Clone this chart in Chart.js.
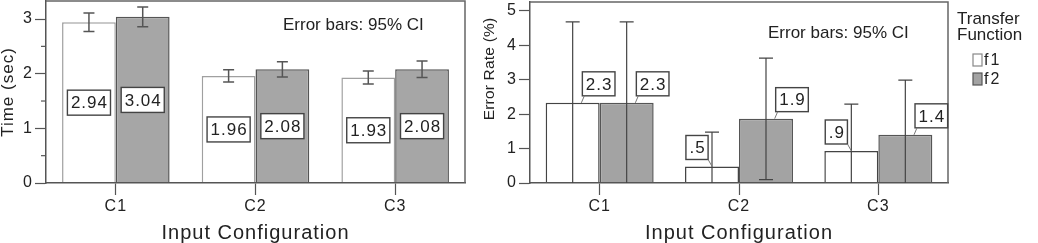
<!DOCTYPE html>
<html>
<head>
<meta charset="utf-8">
<script src="https://cdn.jsdelivr.net/npm/chart.js@4.4.1/dist/chart.umd.min.js"></script>
<style>
html, body { margin: 0; padding: 0; background: #fff; }
#wrap { position: relative; width: 1038px; height: 243px; }
#timeChart { position: absolute; left: 0; top: 0; }
#errChart { position: absolute; left: 470px; top: 0; }
</style>
</head>
<body>
<div id="wrap">
  <canvas id="timeChart" width="470" height="243"></canvas>
  <canvas id="errChart" width="568" height="243"></canvas>
</div>
<script>
const configs = ['C1', 'C2', 'C3'];
const seriesNames = ['f1', 'f2'];
const legendTitle = ['Transfer', 'Function'];
const noteText = 'Error bars: 95% CI';

// left chart: task time
const timeF1 = [2.94, 1.96, 1.93];
const timeF2 = [3.04, 2.08, 2.08];
const timeF1Low = [2.77, 1.85, 1.81];
const timeF1High = [3.11, 2.07, 2.05];
const timeF2Low = [2.86, 1.94, 1.93];
const timeF2High = [3.22, 2.22, 2.23];
const timeTicks = [0, 1, 2, 3];
const timeMinorTicks = [0.5, 1.5, 2.5];

// right chart: error rate
const errF1 = [2.33, 0.48, 0.93];
const errF2 = [2.33, 1.87, 1.4];
const errF1Low = [-0.02, -0.52, -0.43];
const errF1High = [4.68, 1.48, 2.29];
const errF2Low = [-0.02, 0.1, -0.19];
const errF2High = [4.68, 3.63, 2.99];
const errTicks = [0, 1, 2, 3, 4, 5];

const FONT = '"Liberation Sans", Arial, Helvetica, sans-serif';
const INK = '#222';
Chart.defaults.font.family = FONT;
Chart.defaults.color = INK;

function labelBox(ctx, text, cx, cy, h) {
    ctx.font = '17px ' + FONT;
    ctx.letterSpacing = '1px';
    const w = ctx.measureText(text).width + 6;
    ctx.fillStyle = '#fff';
    ctx.strokeStyle = '#444';
    ctx.lineWidth = 1.4;
    ctx.fillRect(cx - w / 2, cy - h / 2, w, h);
    ctx.strokeRect(cx - w / 2, cy - h / 2, w, h);
    ctx.fillStyle = INK;
    ctx.textAlign = 'center';
    ctx.textBaseline = 'middle';
    ctx.fillText(text, cx + 0.5, cy + 1);
    return w;
}

const extras = {
    id: 'extras',
    beforeDraw(chart) {
        chart.ctx.letterSpacing = '1px';
    },
    afterDraw(chart, args, opts) {
        const ctx = chart.ctx;
        const a = chart.chartArea;
        const y = chart.scales.y;
        ctx.save();

        // box top + right edge
        ctx.strokeStyle = '#666';
        ctx.lineWidth = 1.5;
        ctx.beginPath();
        ctx.moveTo(a.left, a.top);
        ctx.lineTo(a.right, a.top);
        ctx.lineTo(a.right, a.bottom);
        ctx.stroke();

        // minor ticks
        ctx.strokeStyle = '#555';
        ctx.lineWidth = 1.2;
        (opts.minor || []).forEach(v => {
            const py = y.getPixelForValue(v);
            ctx.beginPath();
            ctx.moveTo(a.left - 5, py);
            ctx.lineTo(a.left, py);
            ctx.stroke();
        });

        // error bars
        ctx.save();
        ctx.beginPath();
        ctx.rect(a.left, a.top - 1, a.right - a.left, a.bottom - a.top + 1);
        ctx.clip();
        ctx.strokeStyle = opts.errColor;
        ctx.lineWidth = opts.errWidth;
        chart.data.datasets.forEach((ds, i) => {
            chart.getDatasetMeta(i).data.forEach((bar, j) => {
                const lo = y.getPixelForValue(ds.ciLow[j]);
                const hi = y.getPixelForValue(ds.ciHigh[j]);
                const c = opts.cap;
                ctx.beginPath();
                ctx.moveTo(bar.x, lo);
                ctx.lineTo(bar.x, hi);
                ctx.moveTo(bar.x - c, hi);
                ctx.lineTo(bar.x + c, hi);
                ctx.moveTo(bar.x - c, lo);
                ctx.lineTo(bar.x + c, lo);
                ctx.stroke();
            });
        });
        ctx.restore();

        // value labels
        chart.data.datasets.forEach((ds, i) => {
            chart.getDatasetMeta(i).data.forEach((bar, j) => {
                const v = ds.data[j];
                if (opts.inside) {
                    labelBox(ctx, v.toFixed(2), bar.x, y.getPixelForValue(v / 2), 25);
                } else {
                    const txt = v.toFixed(1).replace(/^0/, '');
                    const left = v < 1;
                    const cx = bar.x + (left ? -15 : 26);
                    const h = 24;
                    const cy = bar.y - 7 - h / 2;
                    const w = labelBox(ctx, txt, cx, cy, h);
                    ctx.strokeStyle = '#777';
                    ctx.lineWidth = 1;
                    ctx.beginPath();
                    if (left) {
                        ctx.moveTo(cx + w / 2, cy + h / 2);
                        ctx.lineTo(cx + w / 2 + 4, bar.y);
                    } else {
                        ctx.moveTo(cx - w / 2 + 2, cy + h / 2);
                        ctx.lineTo(cx - w / 2 - 1, bar.y);
                    }
                    ctx.stroke();
                }
            });
        });

        // note
        ctx.letterSpacing = '0px';
        ctx.font = '17px ' + FONT;
        ctx.fillStyle = INK;
        ctx.textAlign = 'left';
        ctx.textBaseline = 'middle';
        ctx.fillText(noteText, a.right - opts.noteDx, a.top + opts.noteDy);

        // y title drawn by hand (right chart)
        if (opts.yTitle) {
            ctx.save();
            ctx.translate(a.left - 40, a.top + 67);
            ctx.rotate(-Math.PI / 2);
            ctx.font = '15.5px ' + FONT;
            ctx.letterSpacing = '0.2px';
            ctx.textAlign = 'center';
            ctx.fillText(opts.yTitle, 0, 0);
            ctx.restore();
        }

        // legend
        if (opts.legend) {
            const lx = a.right + 9;
            ctx.letterSpacing = '0px';
            ctx.font = '17px ' + FONT;
            ctx.fillStyle = INK;
            ctx.textAlign = 'left';
            legendTitle.forEach((t, k) => ctx.fillText(t, lx, 19 + k * 16));
            chart.data.datasets.forEach((ds, i) => {
                const by = 54 + i * 19;
                ctx.fillStyle = ds.backgroundColor;
                ctx.fillRect(lx + 16, by, 9, 12);
                ctx.strokeStyle = i === 0 ? '#888' : '#555';
                ctx.lineWidth = 1.2;
                ctx.strokeRect(lx + 16, by, 9, 12);
                ctx.fillStyle = INK;
                ctx.font = '16px ' + FONT;
                ctx.letterSpacing = '2px';
                ctx.fillText(ds.label, lx + 27, by + 7);
                ctx.letterSpacing = '0px';
            });
        }
        ctx.restore();
    }
};

function axes(yMax, yTicks, yWidth, yTitle) {
    return {
        x: {
            offset: true,
            afterFit: s => { s.height = 60; s.paddingLeft = 0; s.paddingRight = 0; },
            grid: { offset: false, drawOnChartArea: false, drawTicks: true, tickLength: 12, tickColor: '#555', tickWidth: 1.2 },
            border: { display: true, color: '#555', width: 1.5, z: 1 },
            ticks: { font: { size: 16 }, padding: 2, color: INK },
            title: { display: true, text: 'Input Configuration', font: { size: 20, lineHeight: 1 }, padding: 0, color: INK }
        },
        y: {
            min: 0,
            max: yMax,
            afterFit: s => { s.width = yWidth; s.paddingTop = 0; s.paddingBottom = 0; },
            afterBuildTicks: s => { s.ticks = yTicks.map(v => ({ value: v })); },
            grid: { drawOnChartArea: false, drawTicks: true, tickLength: 11, tickColor: '#555', tickWidth: 1.2 },
            border: { display: true, color: '#555', width: 1.5, z: 1 },
            ticks: { font: { size: 16 }, padding: 2, color: INK },
            title: { display: !!yTitle, text: yTitle, font: { size: 17, lineHeight: 1 }, padding: 0, color: INK }
        }
    };
}

new Chart(document.getElementById('timeChart'), {
    type: 'bar',
    data: {
        labels: configs,
        datasets: [
            { label: seriesNames[0], data: timeF1, ciLow: timeF1Low, ciHigh: timeF1High,
              backgroundColor: '#ffffff', borderColor: '#a0a0a0', borderWidth: 1.5 },
            { label: seriesNames[1], data: timeF2, ciLow: timeF2Low, ciHigh: timeF2High,
              backgroundColor: '#a6a6a6', borderColor: '#555555', borderWidth: 1.5 }
        ]
    },
    options: {
        responsive: false,
        animation: false,
        layout: { padding: { top: 1, right: 5, left: 0, bottom: 0 } },
        datasets: { bar: { barPercentage: 1, categoryPercentage: 0.77 } },
        scales: axes(3.33, timeTicks, 46, 'Time (sec)'),
        plugins: {
            legend: { display: false },
            tooltip: { enabled: false },
            extras: { inside: true, minor: timeMinorTicks, errColor: '#555', errWidth: 1.5, cap: 5.5, noteDx: 182, noteDy: 24 }
        }
    },
    plugins: [extras]
});

new Chart(document.getElementById('errChart'), {
    type: 'bar',
    data: {
        labels: configs,
        datasets: [
            { label: seriesNames[0], data: errF1, ciLow: errF1Low, ciHigh: errF1High,
              backgroundColor: '#ffffff', borderColor: '#444444', borderWidth: 1.5 },
            { label: seriesNames[1], data: errF2, ciLow: errF2Low, ciHigh: errF2High,
              backgroundColor: '#a3a3a3', borderColor: '#555555', borderWidth: 1.5 }
        ]
    },
    options: {
        responsive: false,
        animation: false,
        layout: { padding: { top: 2, right: 90, left: 0, bottom: 0 } },
        datasets: { bar: { barPercentage: 1, categoryPercentage: 0.775 } },
        scales: axes(5.26, errTicks, 60, ''),
        plugins: {
            legend: { display: false },
            tooltip: { enabled: false },
            extras: { inside: false, errColor: '#444', errWidth: 1.2, cap: 7, noteDx: 180, noteDy: 31,
                      yTitle: 'Error Rate (%)', legend: true }
        }
    },
    plugins: [extras]
});
</script>
</body>
</html>
